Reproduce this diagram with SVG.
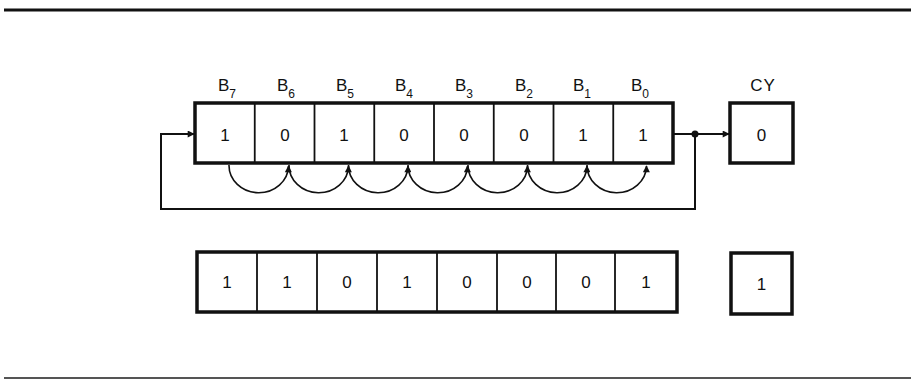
<svg xmlns="http://www.w3.org/2000/svg" width="911" height="380" viewBox="0 0 911 380">
<style>
.frame{fill:#fff;stroke:#111;stroke-width:3.5}
.div{stroke:#111;stroke-width:1.8}
.dig{font-family:"Liberation Sans",Arial,sans-serif;font-size:17px;text-anchor:middle;fill:#111}
.lab{font-family:"Liberation Sans",Arial,sans-serif;font-size:17px;fill:#111}
.sub{font-size:12px}
.wire{fill:none;stroke:#111;stroke-width:2}
.arc{fill:none;stroke:#111;stroke-width:1.6}
.rule{stroke:#111;stroke-width:3}
</style>
<defs>
<marker id="ah" viewBox="0 0 10 10" refX="9" refY="5" markerWidth="9" markerHeight="7" markerUnits="userSpaceOnUse" orient="auto">
<path d="M0,0 L10,5 L0,10 z" fill="#111"/>
</marker>
<marker id="ahs" viewBox="0 0 10 10" refX="9" refY="5" markerWidth="8" markerHeight="7" markerUnits="userSpaceOnUse" orient="auto">
<path d="M0,0 L10,5 L0,10 z" fill="#111"/>
</marker>
</defs>
<g id="rules">
<line class="rule" x1="4" y1="10" x2="911" y2="10"/>
<line x1="4" y1="378" x2="911" y2="378" stroke="#555" stroke-width="2"/>
</g>
<g id="labels">
<text class="lab" x="218" y="91">B<tspan class="sub" dy="7">7</tspan></text>
<text class="lab" x="277" y="91">B<tspan class="sub" dy="7">6</tspan></text>
<text class="lab" x="336" y="91">B<tspan class="sub" dy="7">5</tspan></text>
<text class="lab" x="395" y="91">B<tspan class="sub" dy="7">4</tspan></text>
<text class="lab" x="455" y="91">B<tspan class="sub" dy="7">3</tspan></text>
<text class="lab" x="515" y="91">B<tspan class="sub" dy="7">2</tspan></text>
<text class="lab" x="573" y="91">B<tspan class="sub" dy="7">1</tspan></text>
<text class="lab" x="631" y="91">B<tspan class="sub" dy="7">0</tspan></text>
<text class="lab" x="763" y="91" text-anchor="middle" letter-spacing="1">CY</text>
</g>
<g id="register-top">
<rect class="frame" x="195" y="103" width="478" height="60"/>
<line class="div" x1="254.75" y1="103" x2="254.75" y2="163"/>
<line class="div" x1="314.5" y1="103" x2="314.5" y2="163"/>
<line class="div" x1="374.25" y1="103" x2="374.25" y2="163"/>
<line class="div" x1="434" y1="103" x2="434" y2="163"/>
<line class="div" x1="493.75" y1="103" x2="493.75" y2="163"/>
<line class="div" x1="553.5" y1="103" x2="553.5" y2="163"/>
<line class="div" x1="613.25" y1="103" x2="613.25" y2="163"/>
<text class="dig" x="225" y="141">1</text>
<text class="dig" x="285" y="141">0</text>
<text class="dig" x="344" y="141">1</text>
<text class="dig" x="404" y="141">0</text>
<text class="dig" x="464" y="141">0</text>
<text class="dig" x="524" y="141">0</text>
<text class="dig" x="583" y="141">1</text>
<text class="dig" x="643" y="141">1</text>
</g>
<g id="cy-top">
<rect class="frame" x="730" y="103" width="63" height="60"/>
<text class="dig" x="761.5" y="141">0</text>
</g>
<g id="register-bottom">
<rect class="frame" x="197" y="252" width="480" height="60"/>
<line class="div" x1="257" y1="252" x2="257" y2="312"/>
<line class="div" x1="317" y1="252" x2="317" y2="312"/>
<line class="div" x1="377" y1="252" x2="377" y2="312"/>
<line class="div" x1="437" y1="252" x2="437" y2="312"/>
<line class="div" x1="497" y1="252" x2="497" y2="312"/>
<line class="div" x1="556" y1="252" x2="556" y2="312"/>
<line class="div" x1="615" y1="252" x2="615" y2="312"/>
<text class="dig" x="227" y="288">1</text>
<text class="dig" x="287" y="288">1</text>
<text class="dig" x="347" y="288">0</text>
<text class="dig" x="407" y="288">1</text>
<text class="dig" x="467" y="288">0</text>
<text class="dig" x="527" y="288">0</text>
<text class="dig" x="586" y="288">0</text>
<text class="dig" x="646" y="288">1</text>
</g>
<g id="cy-bottom">
<rect class="frame" x="731" y="253" width="61" height="61"/>
<text class="dig" x="761.5" y="290">1</text>
</g>
<g id="connectors">
<line class="wire" x1="673" y1="134" x2="729" y2="134" marker-end="url(#ah)"/>
<circle cx="695" cy="134" r="3.5" fill="#111"/>
<polyline class="wire" points="695,134 695,209 161,209 161,134 194,134" marker-end="url(#ah)"/>
<path class="arc" d="M229,165 A29.5 27 0 0 0 288.5,166" marker-end="url(#ahs)"/>
<path class="arc" d="M289,165 A29.5 27 0 0 0 348.5,166" marker-end="url(#ahs)"/>
<path class="arc" d="M348.5,165 A29.5 27 0 0 0 408,166" marker-end="url(#ahs)"/>
<path class="arc" d="M408,165 A29.5 27 0 0 0 467.5,166" marker-end="url(#ahs)"/>
<path class="arc" d="M468,165 A29.5 27 0 0 0 527.5,166" marker-end="url(#ahs)"/>
<path class="arc" d="M527.5,165 A29.5 27 0 0 0 587,166" marker-end="url(#ahs)"/>
<path class="arc" d="M587,165 A29.5 27 0 0 0 646.5,166" marker-end="url(#ahs)"/>
</g>
</svg>
